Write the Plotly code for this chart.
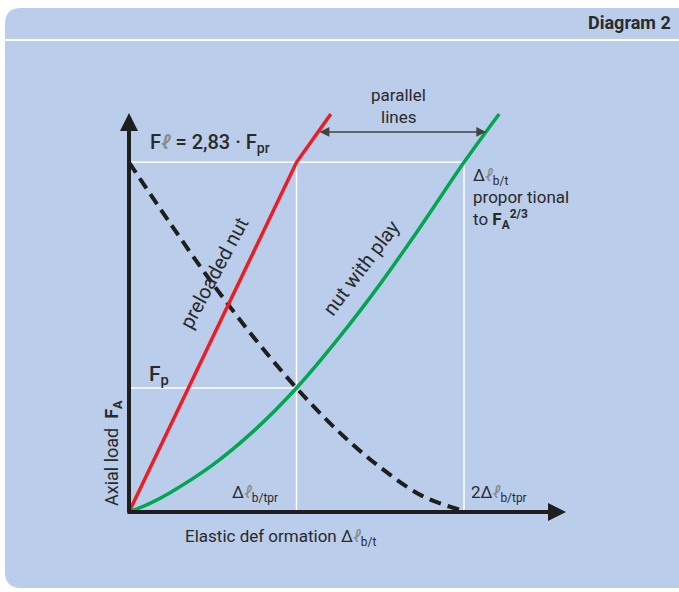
import plotly.graph_objects as go

# ---- data (units: x in Δℓb/tpr, y in Fp) ----
red_x = [0, 1, 1.205]
red_y = [0, 2.82, 3.21]
green_x = [0, 0.125, 0.25, 0.5, 0.75, 1, 1.25, 1.5, 1.75, 2, 2.21]
green_y = [0, 0.07, 0.16, 0.38, 0.66, 1, 1.40, 1.84, 2.32, 2.82, 3.21]
dash_x = [0, 0.25, 0.5, 0.75, 1, 1.25, 1.5, 1.75, 1.97]
dash_y = [2.82, 2.32, 1.84, 1.40, 1, 0.65, 0.36, 0.13, 0.02]
x_marks = [1, 2]            # Δℓb/tpr, 2Δℓb/tpr
y_marks = [1, 2.82]         # Fp, Fℓ
x_tick_labels = ["Δ<span style='color:#8a8a8a'><i>ℓ</i></span><sub>b/tpr</sub>",
                 "2Δ<span style='color:#8a8a8a'><i>ℓ</i></span><sub>b/tpr</sub>"]
parallel_y = 3.065

W, H = 679, 592
OX, OY, SX, SY = 129, 512, 167.5, 124


def X(px):
    return (px - OX) / SX


def Y(py):
    return (OY - py) / SY


PANEL = "#BACDEA"
DARK = "#2a2a2a"
FONT = "Roboto"

fig = go.Figure()

# white reference lines
fig.add_trace(go.Scatter(x=[0, x_marks[1]], y=[y_marks[1], y_marks[1]], mode="lines",
                         line=dict(color="white", width=1.5), hoverinfo="skip"))
fig.add_trace(go.Scatter(x=[0, x_marks[0]], y=[y_marks[0], y_marks[0]], mode="lines",
                         line=dict(color="white", width=1.5), hoverinfo="skip"))
for xm in x_marks:
    fig.add_trace(go.Scatter(x=[xm, xm], y=[0, y_marks[1]], mode="lines",
                             line=dict(color="white", width=1.5), hoverinfo="skip"))

# curves
fig.add_trace(go.Scatter(x=dash_x, y=dash_y, mode="lines", line_shape="spline",
                         line=dict(color="#1e1e1e", width=4, dash="12px,7px")))
fig.add_trace(go.Scatter(x=green_x, y=green_y, mode="lines", line_shape="spline",
                         line=dict(color="#00A651", width=3.5)))
fig.add_trace(go.Scatter(x=red_x, y=red_y, mode="lines",
                         line=dict(color="#ED1C24", width=3.5)))

# panel background (rounded left corners)
L, T, R, B, r = 5, 8, 679, 588, 16
path = (f"M {X(L)},{Y(T + r)} Q {X(L)},{Y(T)} {X(L + r)},{Y(T)} "
        f"L {X(R + 5)},{Y(T)} L {X(R + 5)},{Y(B)} L {X(L + r)},{Y(B)} "
        f"Q {X(L)},{Y(B)} {X(L)},{Y(B - r)} Z")
shapes = [
    dict(type="path", path=path, fillcolor=PANEL, line=dict(width=0), layer="below"),
    dict(type="line", x0=X(L), x1=X(R + 5), y0=Y(40), y1=Y(40),
         line=dict(color="white", width=2), layer="below"),
]

annotations = []


def txt(x, y, text, size=17, xanchor="center", yanchor="middle", angle=0, align="left",
        color=DARK, weight="normal"):
    annotations.append(dict(x=x, y=y, text=text, showarrow=False, xanchor=xanchor,
                            yanchor=yanchor, textangle=angle, align=align,
                            font=dict(family=FONT, size=size, color=color, weight=weight)))


def arrow(x, y, ax, ay, width, size, color, side="end"):
    annotations.append(dict(x=x, y=y, ax=ax, ay=ay, axref="x", ayref="y", xref="x", yref="y",
                            showarrow=True, arrowhead=2, startarrowhead=2, arrowsize=size,
                            startarrowsize=size, arrowside=side,
                            arrowwidth=width, arrowcolor=color, text=""))


# axes with arrow heads
arrow(0, Y(113), 0, Y(OY + 2), 4, 0.9, "#1e1e1e")
arrow(X(566), 0, X(OX - 3), 0, 4, 0.9, "#1e1e1e")


# parallel lines arrow
def at_y(xs, ys, yv):
    x0, x1, y0, y1 = xs[-2], xs[-1], ys[-2], ys[-1]
    return x0 + (yv - y0) * (x1 - x0) / (y1 - y0)


arrow(at_y(green_x, green_y, parallel_y), parallel_y,
      at_y(red_x, red_y, parallel_y), parallel_y, 1.4, 1.4, "#444444", side="end+start")

# texts
txt(X(673), Y(22), "<b>Diagram 2</b>", size=18, xanchor="right")
txt(X(398), Y(95), "parallel", size=17)
txt(X(398), Y(117), "lines", size=17)
txt(X(148), Y(143), "F<span style='color:#8a8a8a'><i>ℓ</i></span> = 2,83 · F<sub>pr</sub>",
    size=20, xanchor="left", weight=500)
txt(X(147), Y(375), "F<sub>p</sub>", size=21, xanchor="left", weight=500)
txt(X(113), Y(453), "Axial load  <b>F<sub>A</sub></b>", size=18, angle=-90)
txt(X(255), Y(493), x_tick_labels[0], size=17)
txt(X(469), Y(493), x_tick_labels[1], size=17, xanchor="left")
txt(X(183), Y(537), "Elastic def ormation Δ<span style='color:#8a8a8a'><i>ℓ</i></span><sub>b/t</sub>",
    size=17, xanchor="left")
txt(X(471), Y(198),
    "Δ<span style='color:#8a8a8a'><i>ℓ</i></span><sub>b/t</sub><br>propor tional<br>to <b>F<sub>A</sub></b><sup><b>2/3</b></sup>",
    size=17, xanchor="left")
txt(X(214), Y(273), "preloaded nut", size=20, angle=-62)
txt(X(361), Y(268), "nut with play", size=20, angle=-53)

fig.update_layout(
    width=W, height=H, margin=dict(l=0, r=0, t=0, b=0),
    paper_bgcolor="white", plot_bgcolor="rgba(0,0,0,0)", showlegend=False,
    xaxis=dict(range=[X(0), X(W)], visible=False, fixedrange=True),
    yaxis=dict(range=[Y(H), Y(0)], visible=False, fixedrange=True),
    shapes=shapes, annotations=annotations,
)

fig.write_html("out.html", config={"displayModeBar": False},
               post_script="document.body.style.margin='0';document.body.style.overflow='hidden';")
